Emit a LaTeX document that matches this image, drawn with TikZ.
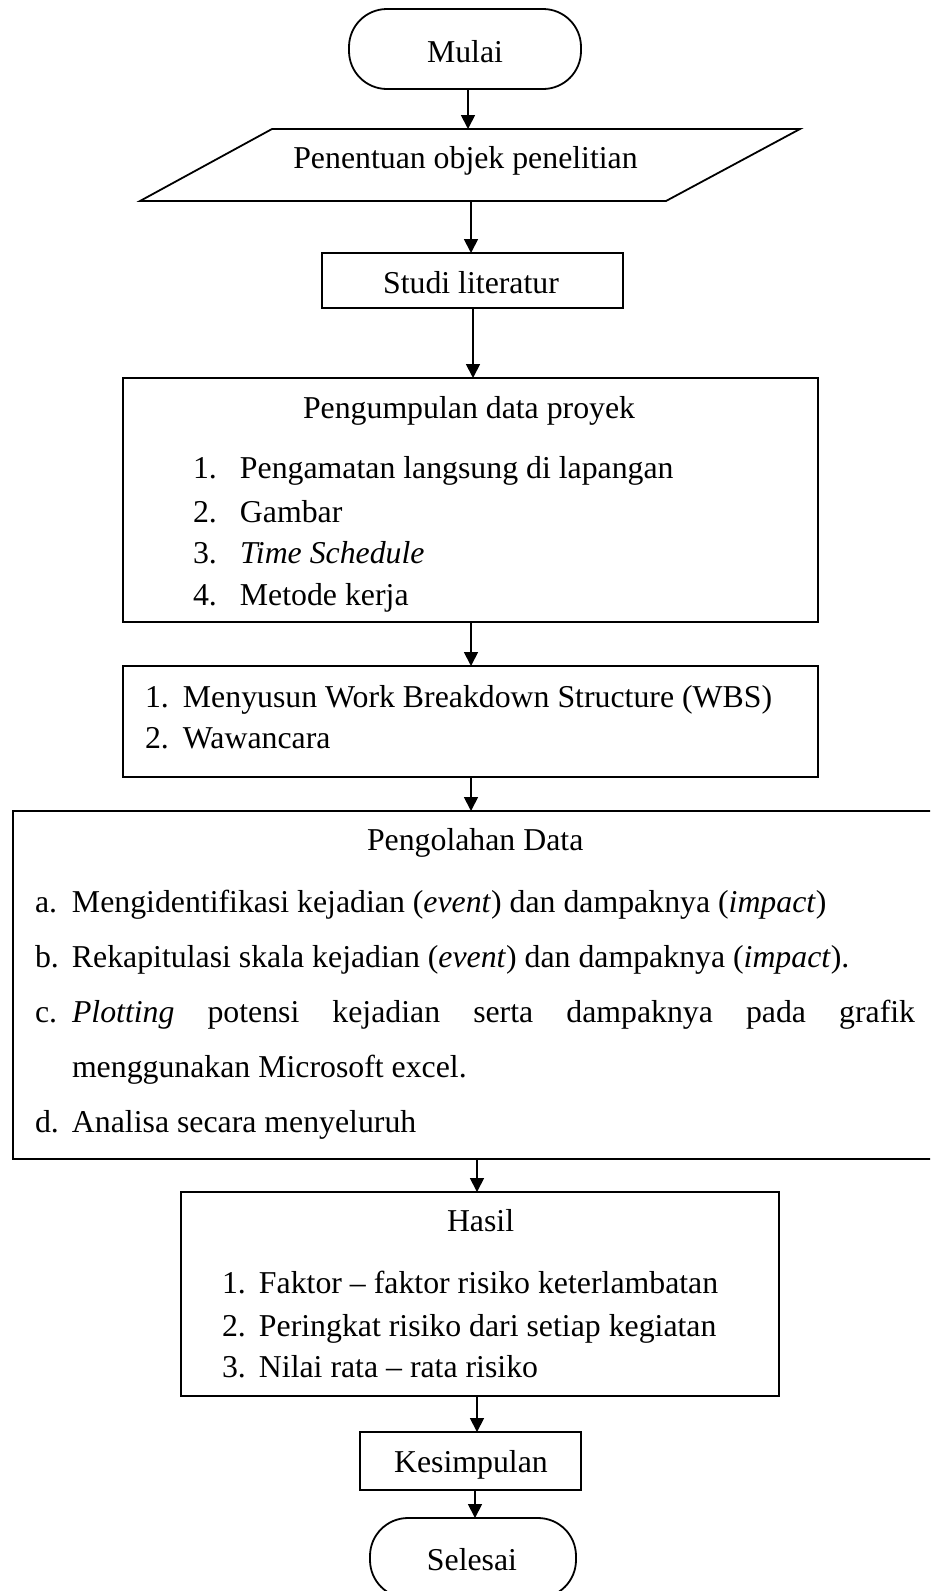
\documentclass[tikz,border=0pt]{standalone}
\usepackage{fontspec}
\setmainfont{Liberation Serif}
\usetikzlibrary{arrows.meta}

\begin{document}
\begin{tikzpicture}[x=1pt,y=-1pt,
  every node/.style={font=\fontsize{31.8pt}{38pt}\selectfont, inner sep=0pt, outer sep=0pt},
  frame/.style={draw, line width=1.8pt, rectangle},
  terminal/.style={draw, line width=1.8pt, rectangle, rounded corners=38pt},
  arr/.style={line width=1.8pt, -{Triangle[length=14pt,width=14pt]}}
]
\useasboundingbox (0,0) rectangle (930,1591);
\clip (0,0) rectangle (930,1591);

% ---------- shapes ----------
\node[terminal, minimum width=232pt, minimum height=80pt] (mulai) at (465,49) {};
\node[minimum width=527pt, minimum height=72pt] (pen) at (469.5,165) {};
\draw[line width=1.8pt, line join=miter]
  ([xshift=66pt]pen.north west) -- ([xshift=67pt]pen.north east)
  -- ([xshift=-67pt]pen.south east) -- ([xshift=-66pt]pen.south west) -- cycle;
\node[frame, minimum width=301pt, minimum height=55pt] (studi) at (472.5,280.5) {};
\node[frame, minimum width=695pt, minimum height=244pt] (kumpul) at (470.5,500) {};
\node[frame, minimum width=695pt, minimum height=111pt] (wbs) at (470.5,721.5) {};
\node[frame, minimum width=923pt, minimum height=348pt] (olah) at (474.5,985) {};
\node[frame, minimum width=598pt, minimum height=204pt] (hasil) at (480,1294) {};
\node[frame, minimum width=221pt, minimum height=58pt] (simpul) at (470.5,1461) {};
\node[terminal, minimum width=206pt, minimum height=80pt] (selesai) at (473,1558) {};

% ---------- texts ----------
\node[anchor=base] (tmulai) at (465,62) {Mulai};
\node[anchor=base] (tpen) at (465.5,168) {Penentuan objek penelitian};
\node[anchor=base] (tstudi) at (471,293) {Studi literatur};

\node[anchor=base west] (tkumpul) at (303,418) {Pengumpulan data proyek};
\node[anchor=base west] (k1) at (193,478) {\makebox[47pt][l]{1.}Pengamatan langsung di lapangan};
\node[anchor=base west] (k2) at (193,522) {\makebox[47pt][l]{2.}Gambar};
\node[anchor=base west] (k3) at (193,563) {\makebox[47pt][l]{3.}\textit{Time Schedule}};
\node[anchor=base west] (k4) at (193,605) {\makebox[47pt][l]{4.}Metode kerja};

\node[anchor=base west] (w1) at (145,707) {\makebox[38pt][l]{1.}Menyusun Work Breakdown Structure (WBS)};
\node[anchor=base west] (w2) at (145,748) {\makebox[38pt][l]{2.}Wawancara};

\node[anchor=base west] (tolah) at (367,850) {Pengolahan Data};
\node[anchor=base west] (o1) at (35,912) {\makebox[37pt][l]{a.}Mengidentifikasi kejadian (\textit{event}) dan dampaknya (\textit{impact})};
\node[anchor=base west] (o2) at (35,967) {\makebox[37pt][l]{b.}Rekapitulasi skala kejadian (\textit{event}) dan dampaknya (\textit{impact}).};
\node[anchor=base west] (o3) at (35,1022) {\makebox[37pt][l]{c.}\hbox to 843pt{\textit{Plotting}\hfil potensi\hfil kejadian\hfil serta\hfil dampaknya\hfil pada\hfil grafik}};
\node[anchor=base west] (o3b) at (72,1077) {menggunakan Microsoft excel.};
\node[anchor=base west] (o4) at (35,1132) {\makebox[37pt][l]{d.}Analisa secara menyeluruh};

\node[anchor=base west] (thasil) at (447,1231) {Hasil};
\node[anchor=base west] (h1) at (222,1293) {\makebox[37pt][l]{1.}Faktor -- faktor risiko keterlambatan};
\node[anchor=base west] (h2) at (222,1336) {\makebox[37pt][l]{2.}Peringkat risiko dari setiap kegiatan};
\node[anchor=base west] (h3) at (222,1377) {\makebox[37pt][l]{3.}Nilai rata -- rata risiko};

\node[anchor=base] (tsimpul) at (471,1472) {Kesimpulan};
\node[anchor=base] (tselesai) at (472,1570) {Selesai};

% ---------- connectors ----------
\draw[arr] ([xshift=3pt]mulai.south) -- ([xshift=3pt]mulai.south |- pen.north);
\draw[arr] ([xshift=1.5pt]pen.south) -- ([xshift=1.5pt]pen.south |- studi.north);
\draw[arr] ([xshift=0.5pt]studi.south) -- ([xshift=0.5pt]studi.south |- kumpul.north);
\draw[arr] ([xshift=0.5pt]kumpul.south) -- ([xshift=0.5pt]kumpul.south |- wbs.north);
\draw[arr] ([xshift=0.5pt]wbs.south) -- ([xshift=0.5pt]wbs.south |- olah.north);
\draw[arr] ([xshift=2.5pt]olah.south) -- ([xshift=2.5pt]olah.south |- hasil.north);
\draw[arr] ([xshift=-3pt]hasil.south) -- ([xshift=-3pt]hasil.south |- simpul.north);
\draw[arr] ([xshift=4.5pt]simpul.south) -- ([xshift=4.5pt]simpul.south |- selesai.north);
\end{tikzpicture}
\end{document}
